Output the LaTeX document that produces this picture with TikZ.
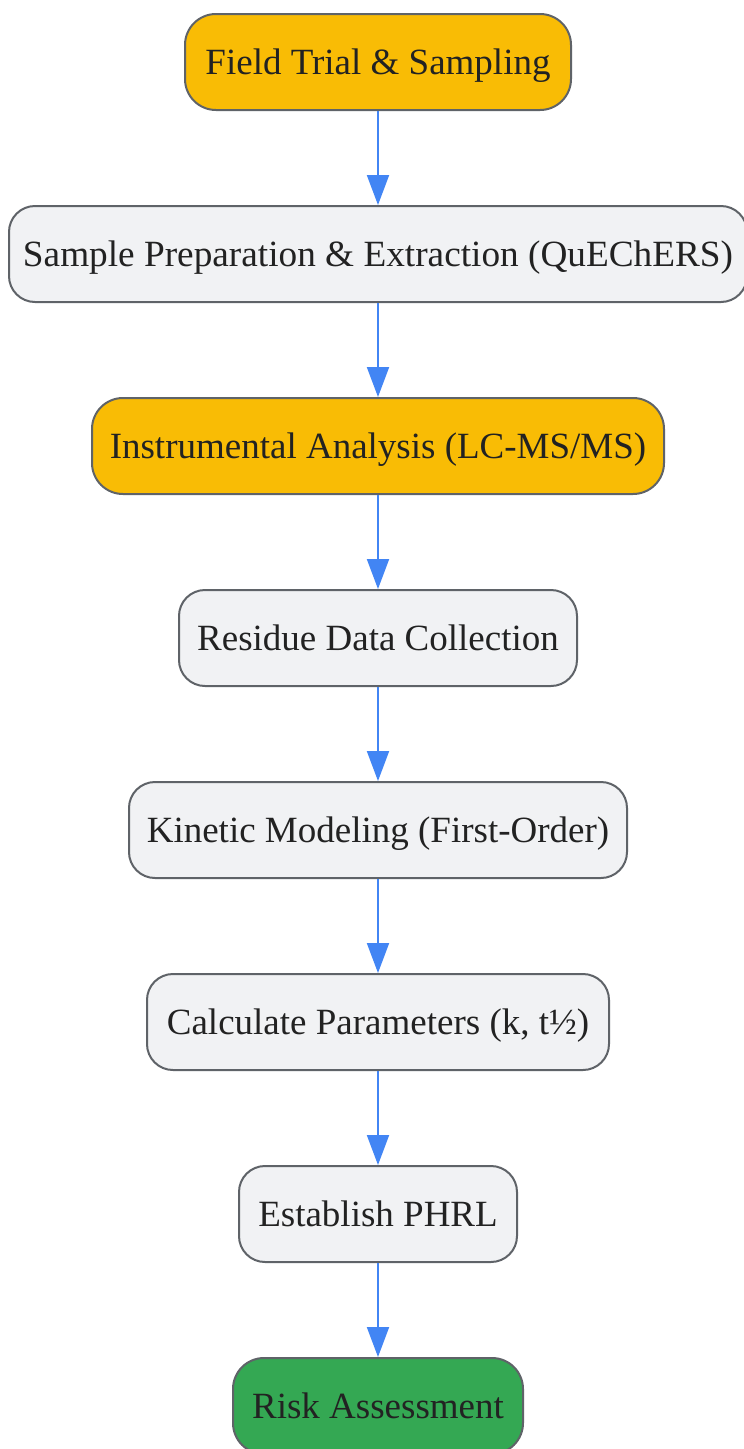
\documentclass[tikz,border=0pt]{standalone}
\usepackage{fontspec}
\setmainfont{Liberation Serif}
\usetikzlibrary{arrows.meta}
\definecolor{orangefill}{HTML}{F9BC05}
\definecolor{greenfill}{HTML}{34A853}
\definecolor{grayfill}{HTML}{F1F2F4}
\definecolor{boxline}{HTML}{5F6368}
\definecolor{arrowblue}{HTML}{4285F4}
\definecolor{txt}{HTML}{222222}
\tikzset{
  box/.style={draw=boxline, line width=2pt, minimum height=96pt,
    inner sep=0pt, text=txt, text height=24pt, text depth=0pt,
    font=\fontsize{37}{44}\selectfont},
  graybox/.style={box, rounded corners=26pt, fill=grayfill},
  orangebox/.style={box, rounded corners=31pt, fill=orangefill},
  greenbox/.style={box, rounded corners=31pt, fill=greenfill},
  flow/.style={draw=arrowblue, line width=2pt, -{Triangle[length=30pt,width=22pt]}}
}
\begin{document}
\begin{tikzpicture}[x=1pt,y=-1pt]
\useasboundingbox (0,0) rectangle (744,1449);
\fill[white] (0,0) rectangle (744,1449);
\clip (0,0) rectangle (744,1449);
\node[orangebox, minimum width=386pt] (n1) at (378,62) {Field Trial \& Sampling};
\node[graybox, minimum width=738pt] (n2) at (378,254) {\resizebox{710pt}{\height}{Sample Preparation \& Extraction (QuEChERS)}};
\node[orangebox, minimum width=572pt] (n3) at (378,446) {Instrumental Analysis (LC-MS/MS)};
\node[graybox, minimum width=398pt] (n4) at (378,638) {Residue Data Collection};
\node[graybox, minimum width=498pt] (n5) at (378,830) {Kinetic Modeling (First-Order)};
\node[graybox, minimum width=462pt] (n6) at (378,1022) {Calculate Parameters (k, t½)};
\node[graybox, minimum width=278pt] (n7) at (378,1214) {Establish PHRL};
\node[greenbox, minimum width=290pt] (n8) at (378,1406) {Risk Assessment};
\draw[flow] (n1.south) -- (n2.north);
\draw[flow] (n2.south) -- (n3.north);
\draw[flow] (n3.south) -- (n4.north);
\draw[flow] (n4.south) -- (n5.north);
\draw[flow] (n5.south) -- (n6.north);
\draw[flow] (n6.south) -- (n7.north);
\draw[flow] (n7.south) -- (n8.north);
\end{tikzpicture}
\end{document}
